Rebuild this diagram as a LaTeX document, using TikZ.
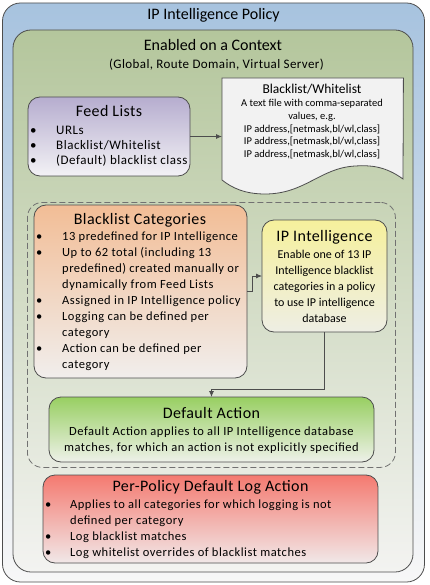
\documentclass[tikz,border=0pt]{standalone}
\usepackage{fontspec}
\setmainfont{Carlito}
\usetikzlibrary{arrows.meta,calc}
\definecolor{bordc}{HTML}{4D4D4D}
\definecolor{outtop}{HTML}{A7C3DF}
\definecolor{outbot}{HTML}{F7F7F7}
\definecolor{grtop}{HTML}{B4C69C}
\definecolor{grbot}{HTML}{F3F3F1}
\definecolor{fltop}{HTML}{B6ADCF}
\definecolor{flbot}{HTML}{F3F2F5}
\definecolor{bctop}{HTML}{F2BD96}
\definecolor{bcbot}{HTML}{F1EEEC}
\definecolor{iptop}{HTML}{F6F09C}
\definecolor{ipbot}{HTML}{EEEEE4}
\definecolor{datop}{HTML}{98CF62}
\definecolor{dabot}{HTML}{EEF1E9}
\definecolor{pptop}{HTML}{F47A70}
\definecolor{ppbot}{HTML}{F1E8E8}
\definecolor{docfill}{HTML}{F2F2F2}
\begin{document}
\begin{tikzpicture}[x=1pt,y=-1pt,
  box/.style={draw=bordc,line width=0.8pt,rounded corners=#1,inner sep=0pt,outer sep=0pt},
  box/.default=12pt,
  title/.style={font=\fontsize{16}{18}\selectfont,inner sep=0pt,anchor=base},
  btitle/.style={font=\fontsize{16}{18}\selectfont\addfontfeature{LetterSpace=2.5},inner sep=0pt,anchor=base},
  body/.style={font=\fontsize{12.5}{16}\selectfont\addfontfeature{LetterSpace=4},inner sep=0pt,anchor=north west},
  arr/.style={draw=bordc,line width=0.8pt,-{Latex[length=6pt,width=5pt]}}
]
\useasboundingbox (0,0) rectangle (429,585);
% outer
\node[box=18pt,top color=outtop,bottom color=outbot,minimum width=422pt,minimum height=579pt,anchor=north west] (outer) at (2.5,3) {};
\node[title] (ttl) at (213.5,20) {IP Intelligence Policy};
% green context
\node[box=18pt,top color=grtop,bottom color=grbot,minimum width=400pt,minimum height=542pt,anchor=north west] (ctx) at (13,30) {};
\node[title] (ctxt) at (213,50.5) {Enabled on a Context};
\node[font=\fontsize{13}{15}\selectfont\addfontfeature{LetterSpace=3},inner sep=0pt,anchor=base] (ctxs) at (216.5,69) {(Global, Route Domain, Virtual Server)};
% feed lists
\node[box,top color=fltop,bottom color=flbot,minimum width=162pt,minimum height=79pt,anchor=north west] (feed) at (28,97) {};
\node[btitle] (feedt) at (109,117) {Feed Lists};
\node[body,font=\fontsize{13}{15}\selectfont\addfontfeature{LetterSpace=4}] (feedb) at (30,123.5) {\begin{tabular}{@{}p{26pt}@{}l@{}}
\textbullet & URLs\\
\textbullet & Blacklist/Whitelist\\
\textbullet & (Default) blacklist class
\end{tabular}};
% document
\node[minimum width=181pt,minimum height=102pt,anchor=north west,inner sep=0pt] (doc) at (222,78) {};
\fill[docfill,draw=bordc,line width=0.8pt] (doc.north west) -- (doc.north east) -- (403,179)
  .. controls (385,166) and (370,165) .. (355,166)
  .. controls (320,168) and (305,194) .. (265,194)
  .. controls (245,194) and (232,188) .. (222,180) -- cycle;
\node[font=\fontsize{13.5}{15}\selectfont,inner sep=0pt,anchor=base] (doct) at (312,94) {Blacklist/Whitelist};
\node[font=\fontsize{10.5}{12.7}\selectfont,inner sep=0pt,anchor=north] (docb) at (312,97.8) {\begin{tabular}{@{}c@{}}A text file with comma-separated\\values, e.g.\\IP address,[netmask,bl/wl,class]\\IP address,[netmask,bl/wl,class]\\IP address,[netmask,bl/wl,class]\end{tabular}};
\draw[arr] (feed.east) -- (feed.east -| doc.west);
% dashed group
\node[draw=bordc!80,line width=0.8pt,dash pattern=on 6pt off 3pt,rounded corners=15pt,minimum width=368pt,minimum height=265pt,anchor=north west,inner sep=0pt] (grp) at (27,202) {};
% blacklist categories
\node[box,top color=bctop,bottom color=bcbot,minimum width=213pt,minimum height=173pt,anchor=north west] (bc) at (34,205) {};
\node[btitle] (bct) at (140,224) {Blacklist Categories};
\node[body] (bcb) at (36,229.5) {\begin{tabular}{@{}p{26pt}@{}l@{}}
\textbullet & 13 predefined for IP Intelligence\\
\textbullet & Up to 62 total (including 13\\
 & predefined) created manually or\\
 & dynamically from Feed Lists\\
\textbullet & Assigned in IP Intelligence policy\\
\textbullet & Logging can be defined per\\
 & category\\
\textbullet & Action can be defined per\\
 & category
\end{tabular}};
% IP intelligence
\node[box,top color=iptop,bottom color=ipbot,minimum width=125pt,minimum height=112pt,anchor=north west] (ipi) at (262,220) {};
\node[btitle] (ipit) at (324.5,241) {IP Intelligence};
\node[font=\fontsize{12}{16}\selectfont,inner sep=0pt,anchor=north] (ipib) at (324.5,246.8) {\begin{tabular}{@{}c@{}}Enable one of 13 IP\\Intelligence blacklist\\categories in a policy\\to use IP intelligence\\database\end{tabular}};
\draw[arr] (bc.east) -| ([xshift=-10pt]ipi.west) -- (ipi.west);
% default action
\node[box,top color=datop,bottom color=dabot,minimum width=325pt,minimum height=65pt,anchor=north west] (da) at (49,397) {};
\node[btitle] (dat) at (211.5,418) {Default Action};
\node[body,anchor=north] (dab) at (211.5,423.8) {\begin{tabular}{@{}c@{}}Default Action applies to all IP Intelligence database\\matches, for which an action is not explicitly specified\end{tabular}};
\draw[arr] (ipi.south) |- ([yshift=8pt]da.north) -- (da.north);
% per-policy
\node[box,top color=pptop,bottom color=ppbot,minimum width=335pt,minimum height=88pt,anchor=north west] (pp) at (43,475) {};
\node[btitle] (ppt) at (210.5,491) {Per-Policy Default Log Action};
\node[body] (ppb) at (45,496.8) {\begin{tabular}{@{}p{25pt}@{}l@{}}
\textbullet & Applies to all categories for which logging is not\\
 & defined per category\\
\textbullet & Log blacklist matches\\
\textbullet & Log whitelist overrides of blacklist matches
\end{tabular}};
\end{tikzpicture}
\end{document}
